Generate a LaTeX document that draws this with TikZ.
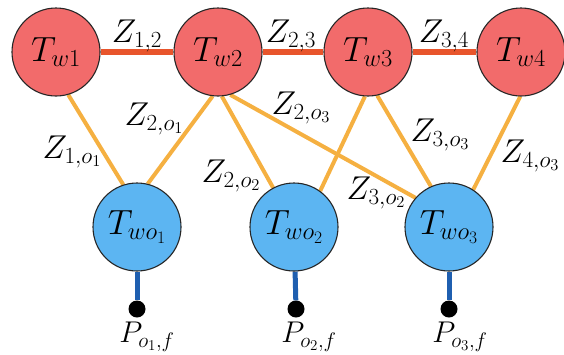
\RequirePackage{fix-cm}
\documentclass[tikz,border=0pt]{standalone}
\usepackage{amsmath}
\usetikzlibrary{backgrounds}
\definecolor{wred}{HTML}{F26B6B}
\definecolor{oblue}{HTML}{5CB5F2}
\definecolor{zorange}{HTML}{F5B041}
\definecolor{zred}{HTML}{E8552C}
\definecolor{pblue}{HTML}{1F5FB0}
\begin{document}
\begin{tikzpicture}[x=1pt,y=-1pt,
  tnode/.style={circle,draw=black!85,line width=1.1pt,minimum size=88pt,inner sep=0pt,font=\fontsize{35}{40}\selectfont},
  wnode/.style={tnode,fill=wred},
  onode/.style={tnode,fill=oblue},
  zlab/.style={inner sep=0pt,font=\fontsize{33}{38}\selectfont},
  plab/.style={inner sep=0pt,font=\fontsize{30}{36}\selectfont},
  redlink/.style={draw=zred,line width=5.5pt},
  orlink/.style={draw=zorange,line width=4pt},
  bluelink/.style={draw=pblue,line width=5pt},
  pdot/.style={circle,fill=black,minimum size=17pt,inner sep=0pt}]
\useasboundingbox (0,0) rectangle (564,354);
% top nodes
\node[wnode] (w1) at (56,52) {$T_{w1}$};
\node[wnode] (w2) at (218,52) {$T_{w2}$};
\node[wnode] (w3) at (368,52) {$T_{w3}$};
\node[wnode] (w4) at (521,52) {$T_{w4}$};
% bottom nodes
\node[onode] (o1) at (137,227) {$T_{wo_1}$};
\node[onode] (o2) at (294,227) {$T_{wo_2}$};
\node[onode] (o3) at (449,227) {$T_{wo_3}$};
% dots
\node[pdot] (d1) at (137,309) {};
\node[pdot] (d2) at (296,309) {};
\node[pdot] (d3) at (449,309) {};
% edges
\begin{scope}[on background layer]
\draw[redlink] (w1) -- (w2);
\draw[redlink] (w2) -- (w3);
\draw[redlink] (w3) -- (w4);
\draw[orlink] (w1.-74) -- (o1.108);
\draw[orlink] (w2.-97) -- (o1.76);
\draw[orlink] (w2.-85) -- (o2.118);
\draw[orlink] (w2.-74) -- (o3.139);
\draw[orlink] (w3.-94) -- (o2.54);
\draw[orlink] (w3.-78) -- (o3.114);
\draw[orlink] (w4.-91) -- (o3.57);
\draw[bluelink] (o1) -- (d1);
\draw[bluelink] (o2) -- (d2);
\draw[bluelink] (o3) -- (d3);
\end{scope}
% labels
\node[zlab] (l12) at (137,36) {$Z_{1,2}$};
\node[zlab] (l23) at (291,36) {$Z_{2,3}$};
\node[zlab] (l34) at (444,36) {$Z_{3,4}$};
\node[zlab] (l2o1) at (154,119) {$Z_{2,o_1}$};
\node[zlab] (l1o1) at (72,152) {$Z_{1,o_1}$};
\node[zlab] (l2o2) at (231,176) {$Z_{2,o_2}$};
\node[zlab] (l2o3) at (301,108) {$Z_{2,o_3}$};
\node[zlab] (l3o3) at (440,135) {$Z_{3,o_3}$};
\node[zlab] (l4o3) at (530,156) {$Z_{4,o_3}$};
\node[zlab] (l3o2) at (376,193) {$Z_{3,o_2}$};
\node[plab] (p1) at (147,337) {$P_{o_1,f}$};
\node[plab] (p2) at (309,337) {$P_{o_2,f}$};
\node[plab] (p3) at (460,337) {$P_{o_3,f}$};
\end{tikzpicture}
\end{document}
